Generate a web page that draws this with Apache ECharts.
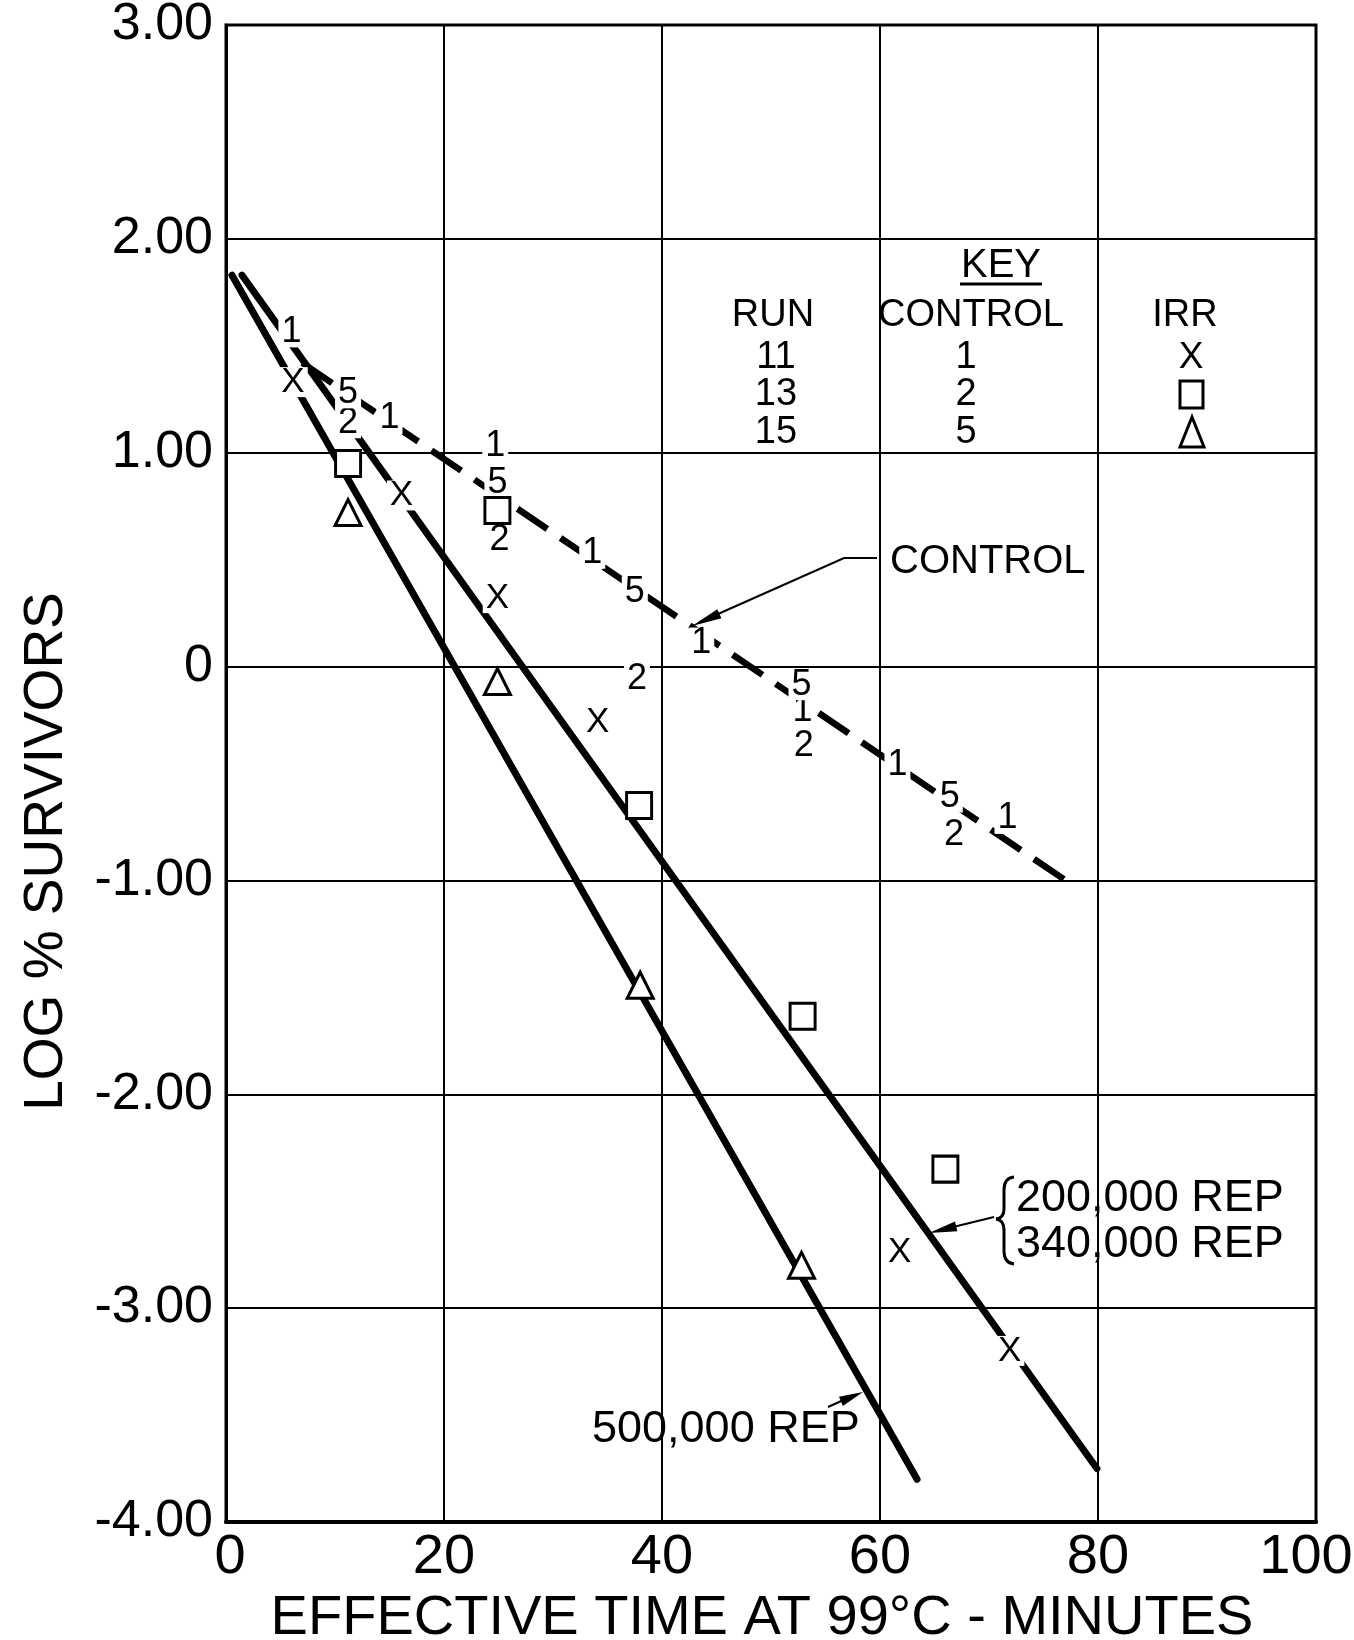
<!DOCTYPE html>
<html><head><meta charset="utf-8">
<script src="https://cdn.jsdelivr.net/npm/echarts@6/dist/echarts.min.js"></script>
<style>html,body{margin:0;padding:0;background:#fff}#c{width:1354px;height:1640px}</style>
</head><body><div id="c"></div>
<script>
// ---- tick labels ----
const xTickValues = [0, 20, 40, 60, 80, 100];
const xTickLabels = ['0', '20', '40', '60', '80', '100'];
const yTickValues = [3, 2, 1, 0, -1, -2, -3, -4];
const yTickLabels = ['3.00', '2.00', '1.00', '0', '-1.00', '-2.00', '-3.00', '-4.00'];

// ---- control data points (plotted as run numbers 1, 2, 5) ----
const controlRun11 = [[6.0, 1.565], [15.0, 1.16], [24.7, 1.03], [33.6, 0.53], [43.6, 0.11], [52.9, -0.21], [61.6, -0.46], [71.7, -0.71]];
const controlRun13 = [[11.2, 1.14], [25.1, 0.59], [37.7, -0.06], [53.0, -0.37], [66.8, -0.79]];
const controlRun15 = [[11.2, 1.28], [24.9, 0.86], [37.5, 0.35], [52.8, -0.085], [66.4, -0.61]];

// ---- irradiated data points ----
const irrRun11 = [[6.15, 1.33], [16.1, 0.80], [24.9, 0.32], [34.1, -0.26], [61.8, -2.74], [71.9, -3.20]];
const irrRun13 = [[11.2, 0.95], [24.9, 0.73], [37.9, -0.65], [52.9, -1.635], [66.0, -2.35]];
const irrRun15 = [[11.2, 0.72], [24.9, -0.07], [38.0, -1.49], [52.8, -2.80]];

// ---- fitted lines ----
const lineControl = [[7.0, 1.42], [77.9, -1.03]];
const line200k = [[1.47, 1.83], [79.9, -3.75]];
const line500k = [[0.55, 1.83], [63.4, -3.80]];

// ---- key / labels ----
const keyRuns = ['11', '13', '15'];
const keyControl = ['1', '2', '5'];
const controlLabels = { run11: '1', run13: '2', run15: '5' };
const irrLabel = 'X';

const FF = 'Liberation Sans';
const chart = echarts.init(document.getElementById('c'), null, { renderer: 'canvas' });

function lineSeries(name, data, dashed) {
  return {
    type: 'line', name: name, data: data, symbol: 'none', showSymbol: false, silent: true, z: 2,
    animation: false,
    lineStyle: { color: '#000', opacity: 1, width: dashed ? 6.5 : 7, type: dashed ? [36, 16] : 'solid', cap: dashed ? 'butt' : 'round' }
  };
}
function textMarks(name, data, text, size) {
  return {
    type: 'scatter', name: name, data: data, symbolSize: 1, z: 5, silent: true,
    itemStyle: { color: 'rgba(0,0,0,0)', opacity: 1 },
    label: {
      show: true, position: 'inside', formatter: text, fontSize: size, fontFamily: FF, color: '#000', opacity: 1,
      backgroundColor: '#fff', padding: [1, 3], lineHeight: Math.round(size * 0.8)
    }
  };
}
function arrowHead(tail, tip, len, hw) {
  const dx = tip[0] - tail[0], dy = tip[1] - tail[1];
  const d = Math.sqrt(dx * dx + dy * dy);
  const ux = dx / d, uy = dy / d;
  const bx = tip[0] - ux * len, by = tip[1] - uy * len;
  return [tip, [bx - uy * hw, by + ux * hw], [bx + uy * hw, by - ux * hw]];
}
function txt(text, x, y, size, align) {
  return { type: 'text', x: x, y: y, z: 10, style: { text: text, fontSize: size, fontFamily: FF, fill: '#000', align: align || 'center', verticalAlign: 'middle' } };
}
function curve(x1, y1, cx, cy, x2, y2) {
  return { type: 'bezierCurve', z: 10, shape: { x1: x1, y1: y1, cpx1: cx, cpy1: cy, x2: x2, y2: y2 }, style: { stroke: '#000', lineWidth: 3, fill: null } };
}
function seg(x1, y1, x2, y2, w) {
  return { type: 'line', z: 10, shape: { x1: x1, y1: y1, x2: x2, y2: y2 }, style: { stroke: '#000', lineWidth: w || 2.2 } };
}

const graphics = [];
// KEY block
graphics.push(txt('KEY', 1001, 266, 40));
graphics.push(seg(960, 284, 1042, 284, 3));
graphics.push(txt('RUN', 773, 316, 38));
graphics.push(txt('CONTROL', 971, 316, 38));
graphics.push(txt('IRR', 1185, 316, 38));
const rowY = [358, 395, 433];
keyRuns.forEach((r, i) => graphics.push(txt(r, 776, rowY[i], 38)));
keyControl.forEach((c, i) => graphics.push(txt(c, 966, rowY[i], 38)));
graphics.push(txt(irrLabel, 1191, rowY[0], 37));
graphics.push({ type: 'rect', z: 10, shape: { x: 1180, y: 381, width: 23, height: 27 }, style: { fill: '#fff', stroke: '#000', lineWidth: 3 } });
graphics.push({ type: 'polygon', z: 10, shape: { points: [[1192, 417], [1180, 447], [1204, 447]] }, style: { fill: '#fff', stroke: '#000', lineWidth: 3 } });

// CONTROL annotation
graphics.push(txt('CONTROL', 890, 562, 40, 'left'));
graphics.push({ type: 'polyline', z: 10, shape: { points: [[877, 558], [844, 558], [700, 622]] }, style: { stroke: '#000', lineWidth: 2.2, fill: null } });
graphics.push({ type: 'polygon', z: 10, shape: { points: arrowHead([844, 558], [692, 626], 30, 5) }, style: { fill: '#000' } });

// 500,000 REP annotation
graphics.push(txt('500,000 REP', 592, 1430, 45, 'left'));
graphics.push(seg(828, 1407, 850, 1397));
graphics.push({ type: 'polygon', z: 10, shape: { points: arrowHead([828, 1407], [863, 1392], 24, 5) }, style: { fill: '#000' } });

// 200,000 / 340,000 REP annotation with brace
graphics.push(txt('200,000 REP', 1016, 1199, 45, 'left'));
graphics.push(txt('340,000 REP', 1016, 1245, 45, 'left'));
graphics.push(curve(1014, 1177, 1004, 1178, 1004, 1190));
graphics.push(seg(1004, 1190, 1004, 1209, 3));
graphics.push(curve(1004, 1209, 1004, 1218, 996, 1219));
graphics.push(curve(996, 1219, 1004, 1220, 1004, 1230));
graphics.push(seg(1004, 1230, 1004, 1251, 3));
graphics.push(curve(1004, 1251, 1004, 1263, 1014, 1264));
graphics.push(seg(994, 1217, 945, 1229));
graphics.push({ type: 'polygon', z: 10, shape: { points: arrowHead([994, 1217], [929, 1233], 28, 5) }, style: { fill: '#000' } });

const option = {
  animation: false,
  backgroundColor: '#fff',
  grid: {
    left: 226, top: 25, width: 1090, height: 1497, containLabel: false, outerBoundsMode: 'none',
    show: true, borderColor: '#000', borderWidth: 3, backgroundColor: 'transparent'
  },
  xAxis: {
    type: 'value', min: 0, max: 100, interval: 20,
    name: 'EFFECTIVE TIME AT 99°C - MINUTES', nameLocation: 'middle', nameGap: 62,
    nameTextStyle: { fontSize: 56, fontFamily: FF, color: '#000', padding: [0, 18, 0, 0] },
    axisLine: { show: true, onZero: false, lineStyle: { color: '#000', width: 4 } },
    axisTick: { show: false },
    splitLine: { show: true, lineStyle: { color: '#000', width: 2 } },
    axisLabel: {
      fontSize: 56, fontFamily: FF, color: '#000', margin: 8,
      formatter: function (v) {
        const i = xTickValues.indexOf(v);
        if (i === 0) return '{l|' + xTickLabels[i] + '}';
        if (i === xTickValues.length - 1) return '{r|' + xTickLabels[i] + '}';
        return xTickLabels[i];
      },
      rich: {
        l: { fontSize: 56, fontFamily: FF, color: '#000', padding: [0, 0, 0, 8] },
        r: { fontSize: 56, fontFamily: FF, color: '#000', padding: [0, 20, 0, 0] }
      }
    }
  },
  yAxis: {
    type: 'value', min: -4, max: 3, interval: 1,
    name: 'LOG % SURVIVORS', nameLocation: 'middle', nameGap: 152,
    nameTextStyle: { fontSize: 55, fontFamily: FF, color: '#000', padding: [0, 156, 0, 0] },
    axisLine: { show: true, onZero: false, lineStyle: { color: '#000', width: 3 } },
    axisTick: { show: false },
    splitLine: { show: true, lineStyle: { color: '#000', width: 2 } },
    axisLabel: {
      fontSize: 52, fontFamily: FF, color: '#000', margin: 13, padding: [6, 0, 0, 0],
      formatter: function (v) { const i = yTickValues.indexOf(v); return i >= 0 ? yTickLabels[i] : ''; }
    }
  },
  series: [
    lineSeries('500,000 REP', line500k, false),
    lineSeries('200,000 / 340,000 REP', line200k, false),
    lineSeries('Control', lineControl, true),
    textMarks('Control run 11', controlRun11, controlLabels.run11, 36),
    textMarks('Control run 13', controlRun13, controlLabels.run13, 36),
    textMarks('Control run 15', controlRun15, controlLabels.run15, 36),
    textMarks('IRR run 11', irrRun11, irrLabel, 35),
    {
      type: 'scatter', name: 'IRR run 13', data: irrRun13, symbol: 'rect', symbolSize: [25, 26], z: 6, silent: true,
      itemStyle: { color: '#fff', borderColor: '#000', borderWidth: 3, opacity: 1 }
    },
    {
      type: 'scatter', name: 'IRR run 15', data: irrRun15, symbol: 'triangle', symbolSize: [26, 26], z: 6, silent: true,
      itemStyle: { color: '#fff', borderColor: '#000', borderWidth: 3, opacity: 1 }
    }
  ],
  graphic: graphics
};
chart.setOption(option);
</script></body></html>
